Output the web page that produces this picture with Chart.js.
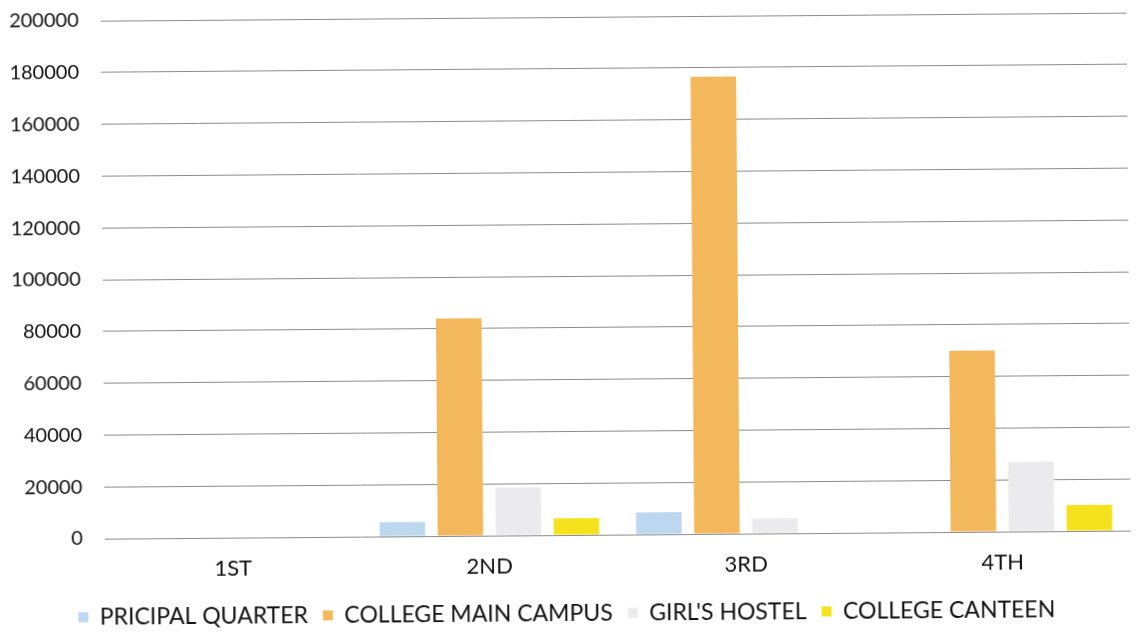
<!DOCTYPE html>
<html lang="en">
  <head>
    <meta charset="UTF-8" />
    <title>Quarterly consumption by building</title>
    <script src="https://cdn.jsdelivr.net/npm/chart.js"></script>
    <style>
      html,
      body {
        margin: 0;
        padding: 0;
        background: #ffffff;
        overflow: hidden;
      }
      .wrap {
        width: 1140px;
        height: 633px;
        margin-top: 2px;
        transform: rotate(-0.45deg);
      }
    </style>
  </head>
  <body>
    <div class="wrap">
      <canvas id="usageChart" width="1140" height="633"></canvas>
    </div>

    <script>
      // quarters on the x axis
      const quarters = ["1ST", "2ND", "3RD", "4TH"];

      // one series per building
      const principalQuarter = [0, 5500, 8500, 0];
      const mainCampus = [0, 84000, 176500, 70000];
      const girlsHostel = [0, 18500, 5800, 26800];
      const canteen = [0, 6500, 0, 10000];

      const yTicks = [0, 20000, 40000, 60000, 80000, 100000, 120000, 140000, 160000, 180000, 200000];

      const fontFamily = "Lato, 'Open Sans', sans-serif";

      const ctx = document.getElementById("usageChart").getContext("2d");
      const usageChart = new Chart(ctx, {
        type: "bar",
        data: {
          labels: quarters,
          datasets: [
            {
              label: "PRICIPAL QUARTER",
              data: principalQuarter,
              backgroundColor: "#bcd7ef",
            },
            {
              label: "COLLEGE MAIN CAMPUS",
              data: mainCampus,
              backgroundColor: "#f3b75c",
            },
            {
              label: "GIRL'S HOSTEL",
              data: girlsHostel,
              backgroundColor: "#ebebee",
            },
            {
              label: "COLLEGE CANTEEN",
              data: canteen,
              backgroundColor: "#f4e31c",
            },
          ],
        },
        options: {
          responsive: false,
          animation: false,
          categoryPercentage: 0.905,
          barPercentage: 0.785,
          layout: {
            padding: { top: 0, right: 11, left: 0, bottom: 0 },
          },
          plugins: {
            legend: {
              position: "bottom",
              labels: {
                boxWidth: 10,
                boxHeight: 10,
                padding: 15,
                color: "#111111",
                font: { family: fontFamily, size: 23 },
              },
            },
            tooltip: { enabled: false },
          },
          scales: {
            x: {
              afterFit: (scale) => {
                scale.height = 52;
              },
              grid: { display: false },
              border: { display: false },
              ticks: {
                padding: 10,
                color: "#111111",
                font: { family: fontFamily, size: 22 },
              },
            },
            y: {
              min: 0,
              max: 200000,
              afterFit: (scale) => {
                scale.width = 103;
              },
              afterBuildTicks: (scale) => {
                scale.ticks = yTicks.map((v) => ({ value: v }));
              },
              grid: {
                color: "#8c8c8c",
                lineWidth: 1,
                drawTicks: true,
                tickLength: 19,
                tickColor: "rgba(0,0,0,0)",
              },
              border: { display: false },
              ticks: {
                padding: 3,
                color: "#111111",
                font: { family: fontFamily, size: 20 },
                callback: (value) => String(value),
              },
            },
          },
        },
      });
    </script>
  </body>
</html>
